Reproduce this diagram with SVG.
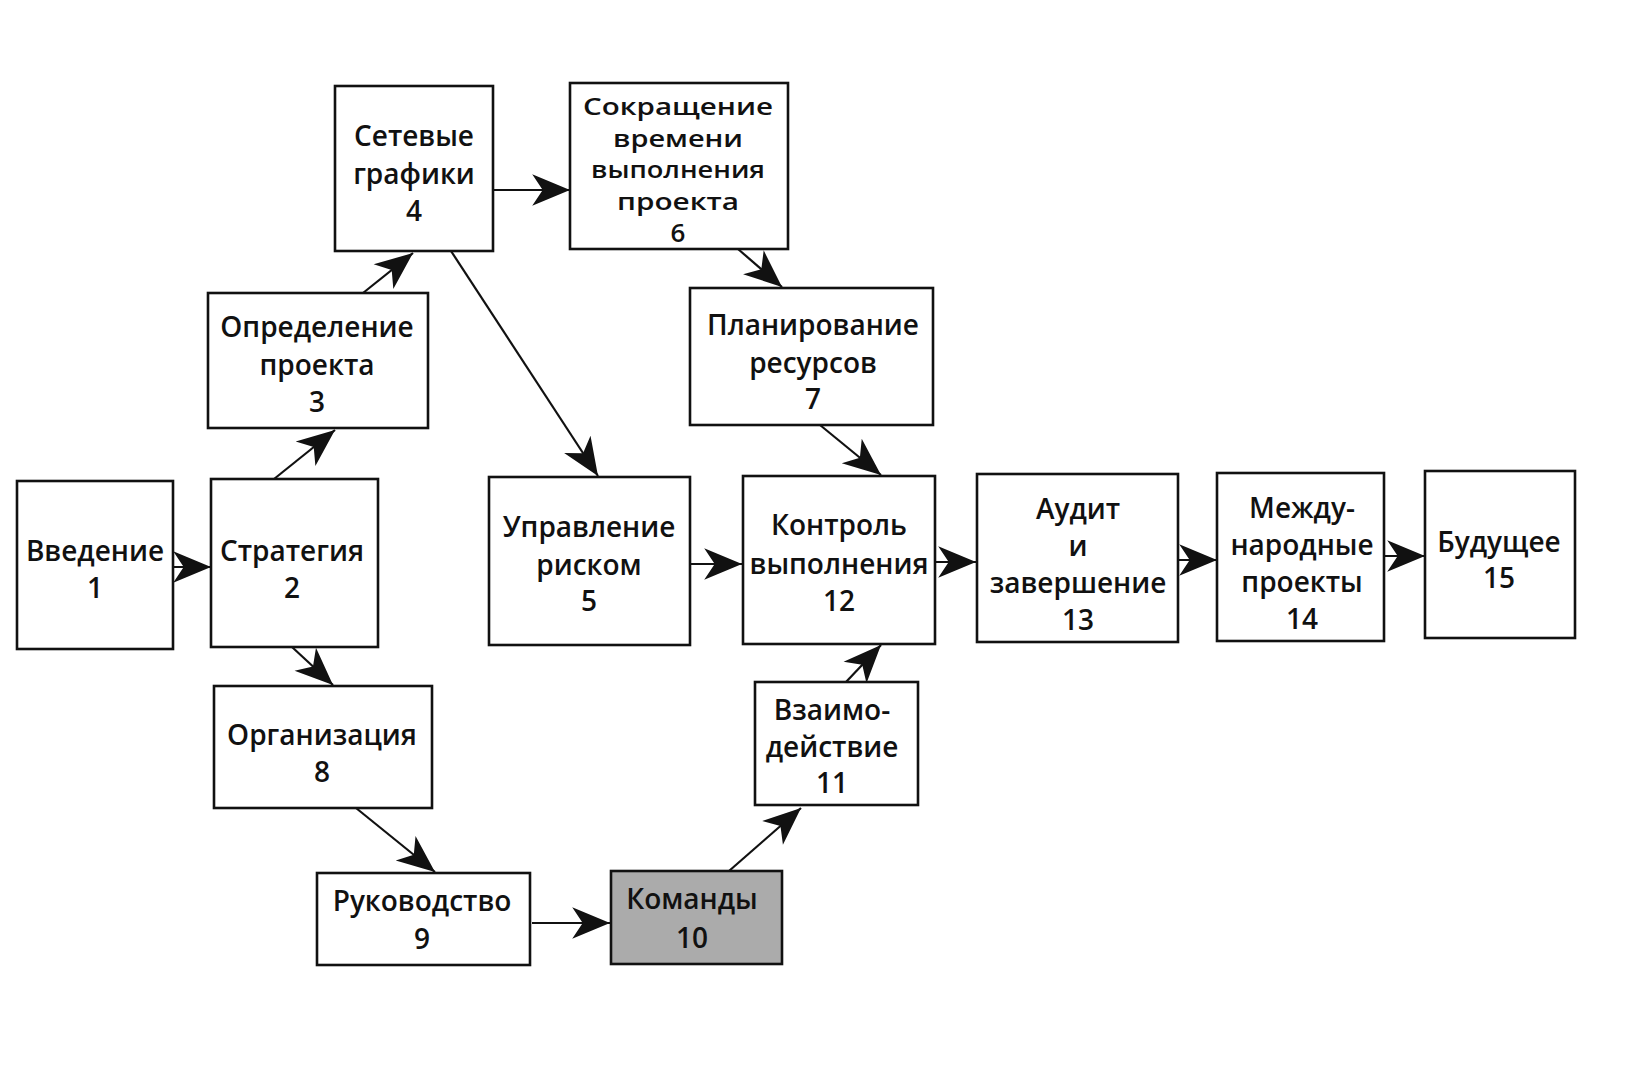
<svg xmlns="http://www.w3.org/2000/svg" width="1652" height="1069" viewBox="0 0 1652 1069">
<defs>
<style>
.box{fill:#fff;stroke:#111;stroke-width:2.6}
.dark{fill:#ababab;stroke:#111;stroke-width:2.6}
text{font-family:"Open Sans","Liberation Sans",sans-serif;font-size:28px;font-weight:600;fill:#111;text-anchor:middle}
.small text{font-size:23px}
.small text.num{font-size:26px}
.c line{stroke:#111;stroke-width:2.2;marker-end:url(#ah)}
</style>
<marker id="ah" markerUnits="userSpaceOnUse" markerWidth="42" markerHeight="36" viewBox="-38 -17 40 34" refX="0" refY="0" orient="auto">
<path d="M0,0 L-36,-15 L-26,0 L-36,15 Z" fill="#111"/>
</marker>
</defs>
<rect width="1652" height="1069" fill="#fff"/>
<g class="c">
<line x1="173" y1="567" x2="211" y2="567"/>
<line x1="274" y1="479" x2="335" y2="430"/>
<line x1="363" y1="293" x2="413" y2="253"/>
<line x1="493" y1="190" x2="570" y2="190"/>
<line x1="451" y1="251" x2="598" y2="476"/>
<line x1="738" y1="249" x2="782" y2="287"/>
<line x1="820" y1="425" x2="881" y2="475"/>
<line x1="690" y1="564" x2="742" y2="564"/>
<line x1="935" y1="562" x2="976" y2="562"/>
<line x1="1178" y1="560" x2="1217" y2="560"/>
<line x1="1384" y1="556" x2="1425" y2="556"/>
<line x1="292" y1="647" x2="333" y2="685"/>
<line x1="356" y1="808" x2="435" y2="872"/>
<line x1="532" y1="923" x2="610" y2="923"/>
<line x1="729" y1="871" x2="801" y2="808"/>
<line x1="846" y1="682" x2="881" y2="645"/>
</g>
<g id="n1"><rect class="box" x="17" y="481" width="156" height="168"/><text x="95" y="561">Введение</text><text x="95" y="598">1</text></g>
<g id="n2"><rect class="box" x="211" y="479" width="167" height="168"/><text x="292" y="561">Стратегия</text><text x="292" y="598">2</text></g>
<g id="n3"><rect class="box" x="208" y="293" width="220" height="135"/><text x="317" y="337">Определение</text><text x="317" y="375">проекта</text><text x="317" y="412">3</text></g>
<g id="n4"><rect class="box" x="335" y="86" width="158" height="165"/><text x="414" y="146">Сетевые</text><text x="414" y="184">графики</text><text x="414" y="221">4</text></g>
<g id="n6" class="small"><rect class="box" x="570" y="83" width="218" height="166"/><text x="678" y="115" textLength="190" lengthAdjust="spacingAndGlyphs">Сокращение</text><text x="678" y="146.5" textLength="130" lengthAdjust="spacingAndGlyphs">времени</text><text x="678" y="178" textLength="174" lengthAdjust="spacingAndGlyphs">выполнения</text><text x="678" y="209.5" textLength="122" lengthAdjust="spacingAndGlyphs">проекта</text><text class="num" x="678" y="242">6</text></g>
<g id="n7"><rect class="box" x="690" y="288" width="243" height="137"/><text x="813" y="335">Планирование</text><text x="813" y="373">ресурсов</text><text x="813" y="409">7</text></g>
<g id="n5"><rect class="box" x="489" y="477" width="201" height="168"/><text x="589" y="537">Управление</text><text x="589" y="575">риском</text><text x="589" y="611">5</text></g>
<g id="n12"><rect class="box" x="743" y="476" width="192" height="168"/><text x="839" y="535">Контроль</text><text x="839" y="574">выполнения</text><text x="839" y="611">12</text></g>
<g id="n13"><rect class="box" x="977" y="474" width="201" height="168"/><text x="1078" y="519">Аудит</text><text x="1078" y="556">и</text><text x="1078" y="593">завершение</text><text x="1078" y="630">13</text></g>
<g id="n14"><rect class="box" x="1217" y="473" width="167" height="168"/><text x="1302" y="518">Между-</text><text x="1302" y="555">народные</text><text x="1302" y="592">проекты</text><text x="1302" y="629">14</text></g>
<g id="n15"><rect class="box" x="1425" y="471" width="150" height="167"/><text x="1499" y="552">Будущее</text><text x="1499" y="588">15</text></g>
<g id="n8"><rect class="box" x="214" y="686" width="218" height="122"/><text x="322" y="745">Организация</text><text x="322" y="782">8</text></g>
<g id="n9"><rect class="box" x="317" y="873" width="213" height="92"/><text x="422" y="911">Руководство</text><text x="422" y="949">9</text></g>
<g id="n10"><rect class="dark" x="611" y="871" width="171" height="93"/><text x="692" y="909">Команды</text><text x="692" y="948">10</text></g>
<g id="n11"><rect class="box" x="755" y="682" width="163" height="123"/><text x="832" y="720">Взаимо-</text><text x="832" y="757">действие</text><text x="832" y="793">11</text></g>
</svg>
